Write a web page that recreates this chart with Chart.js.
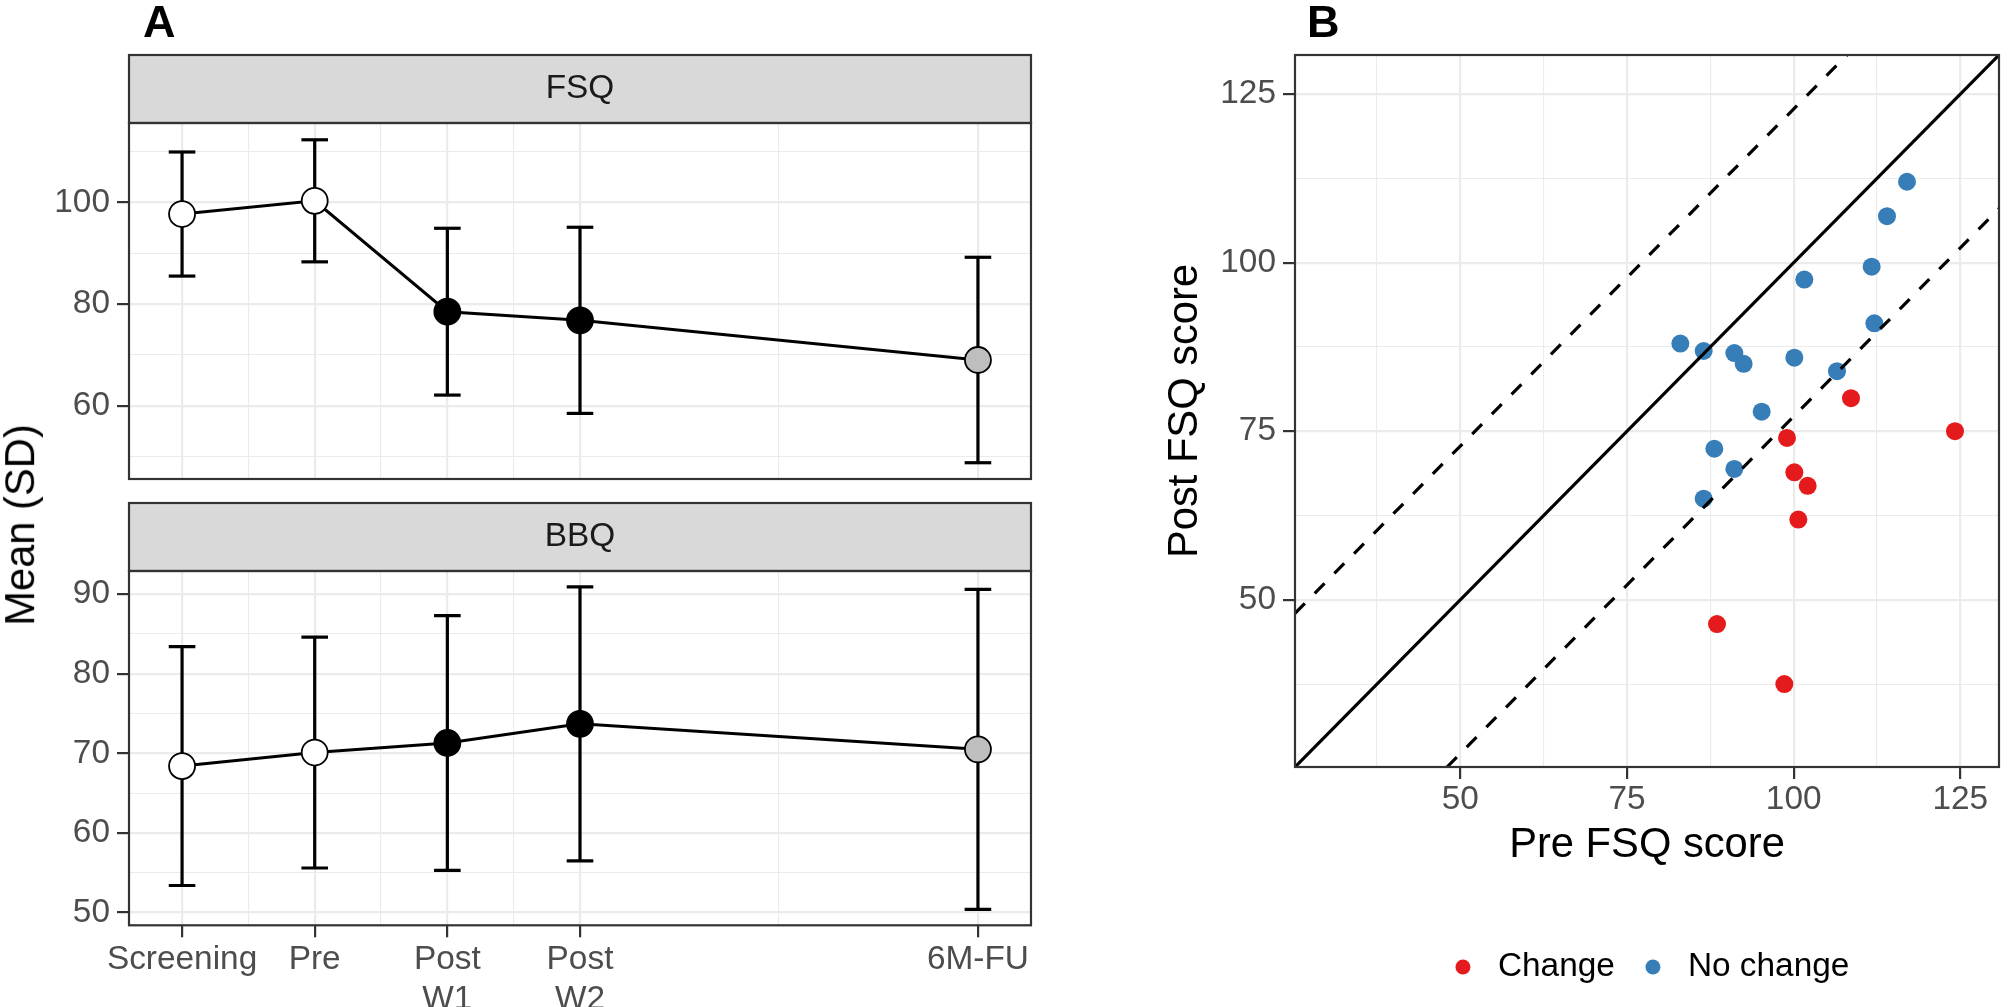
<!DOCTYPE html>
<html>
<head>
<meta charset="utf-8">
<title>FSQ and BBQ over time</title>
<script src="https://cdn.jsdelivr.net/npm/chart.js@4.4.1/dist/chart.umd.min.js"></script>
<style>
  html, body { margin: 0; padding: 0; background: #fff; }
  #page { position: relative; width: 2008px; height: 1007px; overflow: hidden; font-family: "Liberation Sans", Arial, sans-serif; }
  #page canvas { position: absolute; left: 0; top: 0; }
  .tag { position: absolute; top: -1px; font-size: 45px; font-weight: bold; line-height: 1; color: #000; }
  #meanTitle { position: absolute; left: 20px; top: 525px; font-size: 41.7px; line-height: 1; white-space: nowrap; color: #000;
               transform: translate(-50%, -50%) rotate(-90deg); }
</style>
</head>
<body>
<div id="page">
  <canvas id="fsqChart" width="2008" height="1007"></canvas>
  <canvas id="bbqChart" width="2008" height="1007"></canvas>
  <canvas id="scoreChart" width="2008" height="1007"></canvas>
  <div class="tag" style="left:143px">A</div>
  <div class="tag" style="left:1307px">B</div>
  <div id="meanTitle">Mean (SD)</div>
</div>
<script>
// Panel A: mean and SD at each time point
const timeX = [0, 1, 2, 3, 6];
const timeLabels = ['Screening', 'Pre', ['Post', 'W1'], ['Post', 'W2'], '6M-FU'];
const timeMinor = [0.5, 1.5, 2.5, 4.5];

const fsqMean = [97.7, 100.3, 78.5, 76.8, 69.0];
const fsqSD = [12.2, 12.0, 16.4, 18.3, 20.2];
const bbqMean = [68.4, 70.1, 71.3, 73.7, 70.5];
const bbqSD = [15.0, 14.5, 16.0, 17.2, 20.1];

const fsqTicks = [60, 80, 100];
const fsqMinor = [50, 70, 90, 110];
const bbqTicks = [50, 60, 70, 80, 90];
const bbqMinor = [55, 65, 75, 85];

// Panel B: pre vs post FSQ score per participant
const changePre = [108.6, 124.2, 99.0, 100.1, 102.1, 100.7, 88.5, 98.6];
const changePost = [79.9, 75.0, 74.0, 68.9, 66.9, 61.9, 46.4, 37.5];
const noChangePre = [117.0, 114.0, 111.7, 101.6, 112.1, 83.0, 86.5, 91.1, 92.5, 100.1, 106.5, 95.2, 88.1, 91.1, 86.5];
const noChangePost = [112.0, 106.9, 99.4, 97.5, 91.0, 88.0, 86.9, 86.6, 85.0, 85.9, 83.9, 77.9, 72.4, 69.4, 65.0];
const changeBand = 22.8;
const scoreMin = 25.2, scoreMax = 130.8;
const scoreTicks = [50, 75, 100, 125];
const scoreMinor = [37.5, 62.5, 87.5, 112.5];

const FONT = "'Liberation Sans', Arial, sans-serif";
const phaseFill = ['#FFFFFF', '#FFFFFF', '#000000', '#000000', '#BEBEBE'];

Chart.defaults.font.family = FONT;
Chart.defaults.animation = false;
Chart.defaults.events = [];
Chart.defaults.plugins.tooltip.enabled = false;

// panel border + facet strip (theme_bw look)
const panelBox = {
  id: 'panelBox',
  afterDraw(chart, args, opts) {
    const {ctx, chartArea: a} = chart;
    ctx.save();
    ctx.lineWidth = 2.2;
    ctx.strokeStyle = '#333333';
    if (opts.strip) {
      const h = opts.stripHeight;
      ctx.fillStyle = '#D9D9D9';
      ctx.fillRect(a.left, a.top - h, a.width, h);
      ctx.strokeRect(a.left, a.top - h, a.width, h);
      ctx.fillStyle = '#1A1A1A';
      ctx.font = '33.4px ' + FONT;
      ctx.textAlign = 'center';
      ctx.textBaseline = 'middle';
      ctx.fillText(opts.strip, (a.left + a.right) / 2, a.top - h / 2);
    }
    ctx.strokeRect(a.left, a.top, a.width, a.height);
    ctx.restore();
  }
};

const tickSet = (majors, minors) => s => {
  s.ticks = majors.concat(minors).sort((a, b) => a - b).map(v => ({value: v}));
};
const isMajor = (majors, c) => !!(c.tick && majors.includes(c.tick.value));

function gridOpts(majors, withTicks) {
  return {
    color: '#EBEBEB',
    lineWidth: c => isMajor(majors, c) ? 2.2 : 1.1,
    drawTicks: withTicks,
    tickLength: 12,
    tickWidth: 2.2,
    tickColor: c => isMajor(majors, c) ? '#333333' : 'rgba(0,0,0,0)'
  };
}

function valueAxis(min, max, majors, minors, width) {
  return {
    type: 'linear', position: 'left', min: min, max: max,
    afterBuildTicks: tickSet(majors, minors),
    afterFit: s => { s.width = width; },
    grid: gridOpts(majors, true),
    border: {display: false},
    ticks: {
      padding: 7, color: '#4D4D4D', font: {size: 33.4}, autoSkip: false,
      callback: v => majors.includes(v) ? String(v) : ''
    }
  };
}

function timeChart(id, mean, sd, yMin, yMax, majors, minors, strip, padding, xHeight) {
  const showX = xHeight > 0;
  const meanPoints = timeX.map((x, i) => ({x: x, y: mean[i]}));
  const barPoints = [];
  timeX.forEach((x, i) => {
    barPoints.push({x: x, y: mean[i] - sd[i]}, {x: x, y: mean[i] + sd[i]}, {x: x, y: null});
  });
  return new Chart(document.getElementById(id), {
    type: 'scatter',
    data: {
      datasets: [
        { label: strip, data: meanPoints, showLine: true, borderColor: '#000', borderWidth: 3,
          pointRadius: 13, pointBackgroundColor: phaseFill, pointBorderColor: '#000', pointBorderWidth: 1.8 },
        { label: strip + ' SD', data: barPoints, showLine: true, spanGaps: false, borderColor: '#000', borderWidth: 3.2,
          pointStyle: 'line', pointRadius: 13.3, pointBorderColor: '#000', pointBorderWidth: 3.2 }
      ]
    },
    options: {
      responsive: false,
      layout: {padding: padding},
      scales: {
        x: {
          type: 'linear', min: -0.4, max: 6.4,
          afterBuildTicks: tickSet(timeX, timeMinor),
          afterFit: s => { s.height = xHeight; },
          grid: gridOpts(timeX, showX),
          border: {display: false},
          ticks: {
            display: showX, padding: 2, maxRotation: 0, autoSkip: false,
            color: '#4D4D4D', font: {size: 33.4},
            callback: v => { const i = timeX.indexOf(v); return i < 0 ? '' : timeLabels[i]; }
          }
        },
        y: valueAxis(yMin, yMax, majors, minors, 100)
      },
      plugins: {
        legend: {display: false},
        panelBox: {strip: strip, stripHeight: 68}
      }
    },
    plugins: [panelBox]
  });
}

timeChart('fsqChart', fsqMean, fsqSD, 45.6, 115.6, fsqTicks, fsqMinor, 'FSQ',
  {left: 29, top: 123, right: 977, bottom: 528}, 0);
timeChart('bbqChart', bbqMean, bbqSD, 48.4, 92.9, bbqTicks, bbqMinor, 'BBQ',
  {left: 29, top: 571, right: 977, bottom: 0}, 81.7);

// legend marker: dot drawn into a small canvas
const dotCache = {};
function legendDot(color) {
  if (!dotCache[color]) {
    const c = document.createElement('canvas');
    c.width = 16; c.height = 16;
    const g = c.getContext('2d');
    g.fillStyle = color;
    g.beginPath(); g.arc(8, 8, 7.5, 0, Math.PI * 2); g.fill();
    dotCache[color] = c;
  }
  return dotCache[color];
}

const refLine = { showLine: true, borderColor: '#000', borderWidth: 3.2, pointRadius: 0 };

new Chart(document.getElementById('scoreChart'), {
  type: 'scatter',
  data: {
    datasets: [
      Object.assign({ label: 'No difference',
        data: [{x: scoreMin, y: scoreMin}, {x: scoreMax, y: scoreMax}] }, refLine),
      Object.assign({ label: 'Upper limit', borderDash: [14, 14],
        data: [{x: scoreMin, y: scoreMin + changeBand}, {x: scoreMax - changeBand, y: scoreMax}] }, refLine),
      Object.assign({ label: 'Lower limit', borderDash: [14, 14],
        data: [{x: scoreMin + changeBand, y: scoreMin}, {x: scoreMax, y: scoreMax - changeBand}] }, refLine),
      { label: 'Change', showInLegend: true, backgroundColor: '#E41A1C',
        data: changePre.map((x, i) => ({x: x, y: changePost[i]})),
        pointRadius: 9, pointBackgroundColor: '#E41A1C', pointBorderWidth: 0 },
      { label: 'No change', showInLegend: true, backgroundColor: '#377EB8',
        data: noChangePre.map((x, i) => ({x: x, y: noChangePost[i]})),
        pointRadius: 9, pointBackgroundColor: '#377EB8', pointBorderWidth: 0 }
    ]
  },
  options: {
    responsive: false,
    layout: {padding: {left: 1160, top: 55, right: 3, bottom: 13.3}},
    scales: {
      x: {
        type: 'linear', min: scoreMin, max: scoreMax,
        afterBuildTicks: tickSet(scoreTicks, scoreMinor),
        afterFit: s => { s.height = 163.6; },
        grid: gridOpts(scoreTicks, true),
        border: {display: false},
        ticks: {
          padding: 1, maxRotation: 0, autoSkip: false, color: '#4D4D4D', font: {size: 33.4},
          callback: v => scoreTicks.includes(v) ? String(v) : ''
        },
        title: { display: true, text: 'Pre FSQ score', color: '#000', font: {size: 41.7},
                 padding: {top: 0, bottom: 59.6} }
      },
      y: Object.assign(valueAxis(scoreMin, scoreMax, scoreTicks, scoreMinor, 135), {
        title: { display: true, text: 'Post FSQ score', color: '#000', font: {size: 41.7},
                 padding: {top: 0, bottom: 0} }
      })
    },
    plugins: {
      legend: {
        position: 'bottom', fullSize: false, align: 'center',
        labels: {
          usePointStyle: true, pointStyleWidth: 36.6, padding: 19.7, color: '#000', font: {size: 33.4},
          generateLabels: chart => chart.data.datasets
            .map((ds, i) => ({ds: ds, i: i}))
            .filter(o => o.ds.showInLegend)
            .map(o => ({
              text: o.ds.label, datasetIndex: o.i, hidden: false,
              pointStyle: legendDot(o.ds.backgroundColor),
              fillStyle: o.ds.backgroundColor, strokeStyle: o.ds.backgroundColor,
              lineWidth: 0, fontColor: '#000'
            }))
        }
      },
      panelBox: {}
    }
  },
  plugins: [panelBox]
});
</script>
</body>
</html>
